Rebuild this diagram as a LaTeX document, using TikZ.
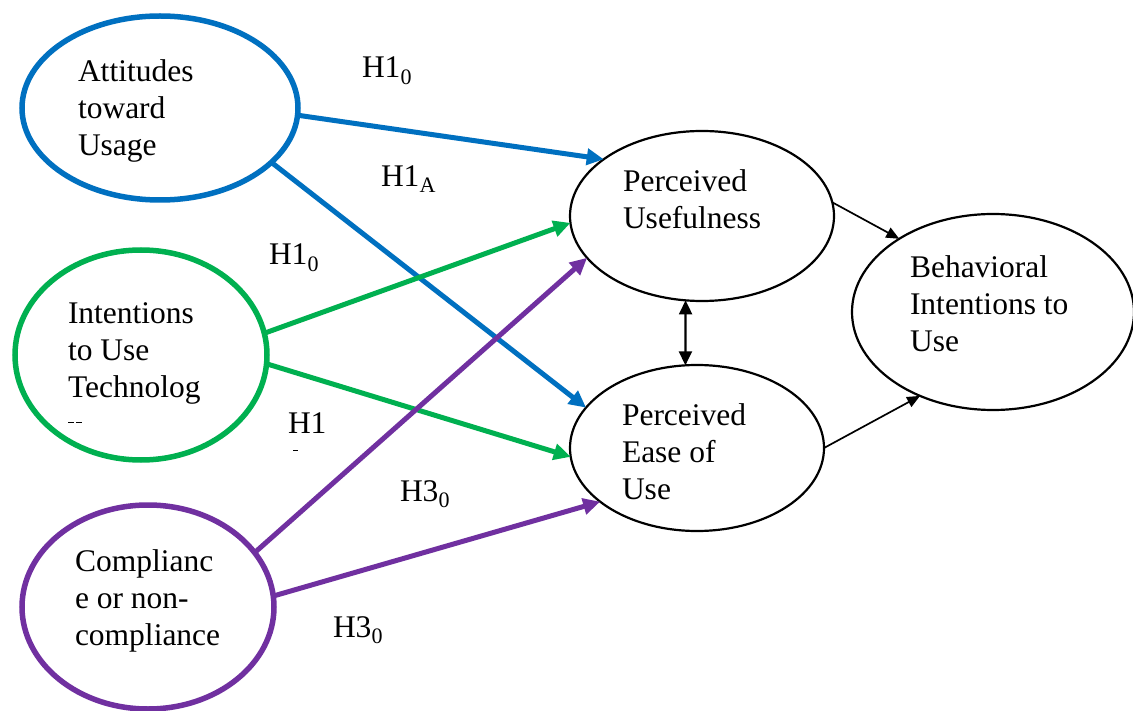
\documentclass[tikz,border=0pt]{standalone}
\usepackage{fontspec}
\setmainfont{Liberation Serif}
\usetikzlibrary{shapes.geometric,arrows.meta}
\definecolor{myblue}{HTML}{0070C0}
\definecolor{mygreen}{HTML}{00B050}
\definecolor{mypurple}{HTML}{7030A0}
\begin{document}
\begin{tikzpicture}[x=1pt,y=-1pt,
  every node/.style={font=\fontsize{31.5}{37}\selectfont},
  ell/.style={ellipse, inner sep=0pt, outer sep=0pt},
  colell/.style={ell, line width=5.5pt},
  blkell/.style={ell, draw=black, line width=2.2pt},
  txt/.style={anchor=base west, inner sep=0pt, outer sep=0pt},
  colarrow/.style={line width=5pt, -{Triangle[length=17pt,width=16pt]}},
  blkarrow/.style={line width=1.7pt, -{Triangle[length=13pt,width=11pt]}},
  dblarrow/.style={line width=2.2pt, {Triangle[length=14pt,width=13pt]}-{Triangle[length=14pt,width=13pt]}}
]
\useasboundingbox (0,0) rectangle (1133,711);
\fill[white] (0,0) rectangle (1133,711);

% ellipses
\node[colell, draw=myblue, minimum width=276pt, minimum height=184pt] (A) at (160,108) {};
\node[colell, draw=mygreen, minimum width=252pt, minimum height=210pt] (I) at (141,355) {};
\node[colell, draw=mypurple, minimum width=252pt, minimum height=204pt] (C) at (148,607) {};
\node[blkell, minimum width=264pt, minimum height=170pt] (PU) at (702,216) {};
\node[blkell, minimum width=254pt, minimum height=166pt] (PE) at (697,448) {};
\node[blkell, minimum width=282pt, minimum height=196pt] (BI) at (993,312) {};

% texts in ellipses
\node[txt] (tA) at (78,82) {\parbox[t]{220pt}{Attitudes\\toward\\Usage}};
\node[txt] (tI) at (68,324) {\parbox[t]{220pt}{Intentions\\to Use\\Technolog}};
\node[txt] (tC) at (75,571) {\parbox[t]{220pt}{Complianc\\e or non-\\compliance}};
\node[txt] (tPU) at (623,192) {\parbox[t]{220pt}{Perceived\\Usefulness}};
\node[txt] (tPE) at (622,425) {\parbox[t]{220pt}{Perceived\\Ease of\\Use}};
\node[txt] (tBI) at (910,278) {\parbox[t]{220pt}{Behavioral\\Intentions to\\Use}};

% clipped text fragments
\draw[line width=0.9pt] (68,422) -- (74,422) (76,422) -- (82,422);
\draw[line width=0.9pt] (293,450) -- (298,450);

% hypothesis labels
\node[txt] (h1) at (362,78) {H1\textsubscript{0}};
\node[txt] (h2) at (381,187) {H1\textsubscript{A}};
\node[txt] (h3) at (269,265) {H1\textsubscript{0}};
\node[txt] (h4) at (288,433) {H1};
\node[txt] (h5) at (400,501) {H3\textsubscript{0}};
\node[txt] (h6) at (333,637) {H3\textsubscript{0}};

% colored arrows
\draw[colarrow, draw=myblue, fill=myblue] (A.-3.7) -- (PU.150.7);
\draw[colarrow, draw=myblue, fill=myblue] (A.-26) -- (PE.160.1);
\draw[colarrow, draw=mygreen, fill=mygreen] (I.10.9) -- (PU.183.8);
\draw[colarrow, draw=mygreen, fill=mygreen] (I.-4.8) -- (PE.184.4);
\draw[colarrow, draw=mypurple, fill=mypurple] (C.27.4) -- (PU.200.1);
\draw[colarrow, draw=mypurple, fill=mypurple] (C.5.3) -- (PE.209.1);

% black arrows
\draw[blkarrow] (PU.6.4) -- (BI.142.1);
\draw[blkarrow] (PE.0) -- (BI.229.9);
\draw[dblarrow] (PU.-101.8) -- (PE.98.8);
\end{tikzpicture}
\end{document}
